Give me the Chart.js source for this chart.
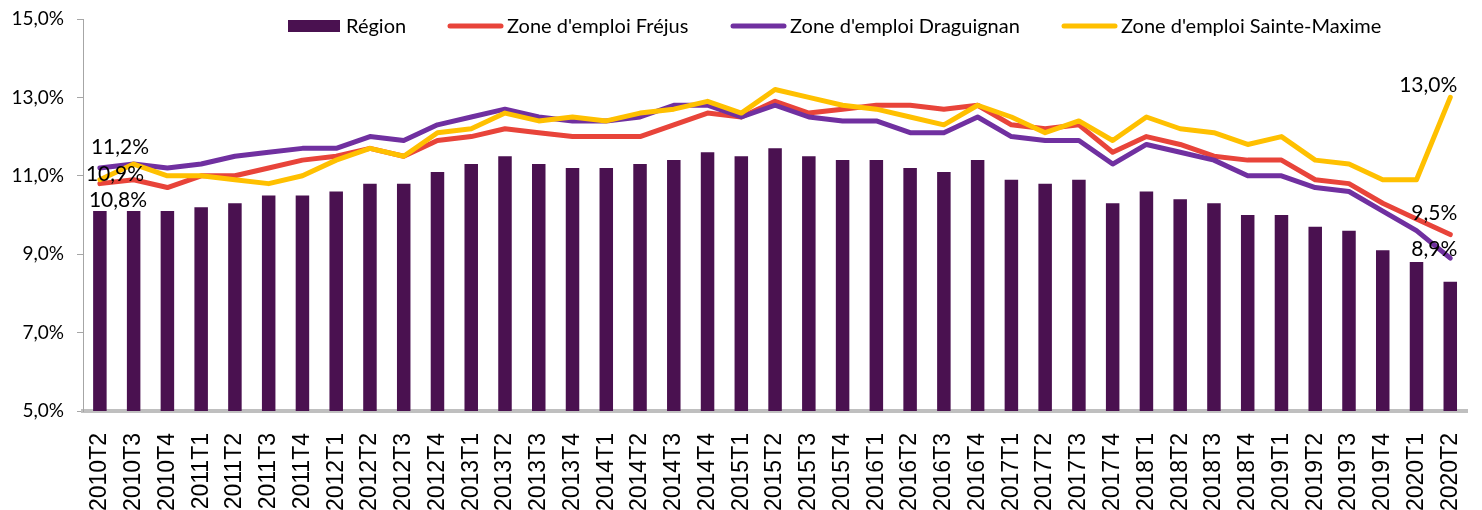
<!DOCTYPE html>
<html>
<head>
<meta charset="utf-8">
<script src="https://cdn.jsdelivr.net/npm/chart.js@4.4.0/dist/chart.umd.min.js"></script>
<style>
	html, body { margin: 0; padding: 0; background: #fff; overflow: hidden; }
	#wrap { position: relative; width: 1500px; height: 510px; }
</style>
</head>
<body>
<div id="wrap"><canvas id="chomage"></canvas></div>
<script>
	var labels = ['2010T2','2010T3','2010T4',
		'2011T1','2011T2','2011T3','2011T4',
		'2012T1','2012T2','2012T3','2012T4',
		'2013T1','2013T2','2013T3','2013T4',
		'2014T1','2014T2','2014T3','2014T4',
		'2015T1','2015T2','2015T3','2015T4',
		'2016T1','2016T2','2016T3','2016T4',
		'2017T1','2017T2','2017T3','2017T4',
		'2018T1','2018T2','2018T3','2018T4',
		'2019T1','2019T2','2019T3','2019T4',
		'2020T1','2020T2'];

	var region = [10.1,10.1,10.1,10.2,10.3,10.5,10.5,10.6,10.8,10.8,
		11.1,11.3,11.5,11.3,11.2,11.2,11.3,11.4,11.6,11.5,
		11.7,11.5,11.4,11.4,11.2,11.1,11.4,10.9,10.8,10.9,
		10.3,10.6,10.4,10.3,10.0,10.0,9.7,9.6,9.1,8.8,8.3];

	var frejus = [10.8,10.9,10.7,11.0,11.0,11.2,11.4,11.5,11.7,11.5,
		11.9,12.0,12.2,12.1,12.0,12.0,12.0,12.3,12.6,12.5,
		12.9,12.6,12.7,12.8,12.8,12.7,12.8,12.3,12.2,12.3,
		11.6,12.0,11.8,11.5,11.4,11.4,10.9,10.8,10.3,9.9,9.5];

	var draguignan = [11.2,11.3,11.2,11.3,11.5,11.6,11.7,11.7,12.0,11.9,
		12.3,12.5,12.7,12.5,12.4,12.4,12.5,12.8,12.8,12.5,
		12.8,12.5,12.4,12.4,12.1,12.1,12.5,12.0,11.9,11.9,
		11.3,11.8,11.6,11.4,11.0,11.0,10.7,10.6,10.1,9.6,8.9];

	var sainteMaxime = [10.9,11.3,11.0,11.0,10.9,10.8,11.0,11.4,11.7,11.5,
		12.1,12.2,12.6,12.4,12.5,12.4,12.6,12.7,12.9,12.6,
		13.2,13.0,12.8,12.7,12.5,12.3,12.8,12.5,12.1,12.4,
		11.9,12.5,12.2,12.1,11.8,12.0,11.4,11.3,10.9,10.9,13.0];

	var yTicks = [5, 7, 9, 11, 13, 15];

	var FONT = 'Lato, "Open Sans", sans-serif';

	function pct(v) {
		return v.toFixed(1).replace('.', ',') + '%';
	}

	//légende dessinée à la main, positionnée comme l'original
	var legendPlugin = {
		id: 'legendeExcel',
		afterDraw: function(chart) {
			var ctx = chart.ctx;
			var startX = [288, 448, 731, 1062];
			var cy = 26;
			ctx.save();
			ctx.font = '20px ' + FONT;
			ctx.textBaseline = 'middle';
			chart.data.datasets.forEach(function(ds, i) {
				var x = startX[i];
				var textX;
				if (ds.type === 'bar') {
					ctx.fillStyle = ds.backgroundColor;
					ctx.fillRect(x, cy - 6, 52, 12);
					textX = x + 58;
				} else {
					ctx.strokeStyle = ds.borderColor;
					ctx.lineWidth = 5;
					ctx.lineCap = 'round';
					ctx.beginPath();
					ctx.moveTo(x + 2, cy);
					ctx.lineTo(x + 53, cy);
					ctx.stroke();
					textX = x + 59;
				}
				ctx.fillStyle = '#000';
				ctx.fillText(ds.label, textX, cy + 1);
			});
			ctx.restore();
		}
	};

	//étiquettes de valeurs au début et à la fin des courbes
	var valueLabels = [
		{ ds: 2, idx: 0, dx: -9, dy: -21, align: 'left' },
		{ ds: 3, idx: 0, dx: -14, dy: -5, align: 'left' },
		{ ds: 1, idx: 0, dx: -11, dy: 17, align: 'left' },
		{ ds: 3, idx: 40, dx: 7, dy: -12, align: 'right' },
		{ ds: 1, idx: 40, dx: 7, dy: -21, align: 'right' },
		{ ds: 2, idx: 40, dx: 7, dy: -9, align: 'right' }
	];

	var valuePlugin = {
		id: 'etiquettes',
		afterDatasetsDraw: function(chart) {
			var ctx = chart.ctx;
			ctx.save();
			ctx.font = '21px ' + FONT;
			ctx.fillStyle = '#000';
			ctx.textBaseline = 'middle';
			valueLabels.forEach(function(l) {
				var pt = chart.getDatasetMeta(l.ds).data[l.idx];
				var v = chart.data.datasets[l.ds].data[l.idx];
				ctx.textAlign = l.align;
				ctx.fillText(pct(v), pt.x + l.dx, pt.y + l.dy);
			});
			ctx.restore();
		}
	};

	function lineSet(label, data, color, order) {
		return {
			type: 'line',
			label: label,
			data: data,
			borderColor: color,
			backgroundColor: color,
			borderWidth: 5,
			pointRadius: 0,
			pointHoverRadius: 0,
			tension: 0,
			borderJoinStyle: 'round',
			borderCapStyle: 'round',
			fill: false,
			order: order
		};
	}

	var ctx = document.getElementById('chomage');
	var chart = new Chart(ctx, {
		data: {
			labels: labels,
			datasets: [
				{
					type: 'bar',
					label: 'Région',
					data: region,
					backgroundColor: '#4a1150',
					borderWidth: 0,
					barPercentage: 0.8,
					categoryPercentage: 0.5,
					order: 4
				},
				lineSet("Zone d'emploi Fréjus", frejus, '#e8443a', 3),
				lineSet("Zone d'emploi Draguignan", draguignan, '#7030a0', 2),
				lineSet("Zone d'emploi Sainte-Maxime", sainteMaxime, '#ffc000', 1)
			]
		},
		options: {
			responsive: true,
			maintainAspectRatio: false,
			animation: false,
			layout: {
				padding: { top: 19, right: 11, left: 0, bottom: 0 }
			},
			plugins: {
				legend: { display: false },
				tooltip: { enabled: false }
			},
			scales: {
				x: {
					offset: true,
					grid: { display: false, drawTicks: false },
					border: { display: true, color: '#bfbfbf', width: 4 },
					ticks: {
						autoSkip: false,
						minRotation: 90,
						maxRotation: 90,
						padding: 22,
						color: '#000',
						font: { family: '"Liberation Sans", Arial, sans-serif', size: 23 }
					},
					afterFit: function(s) { s.height = 99; }
				},
				y: {
					min: 5,
					max: 15,
					afterBuildTicks: function(s) {
						s.ticks = yTicks.map(function(v) { return { value: v }; });
					},
					grid: {
						drawOnChartArea: false,
						drawTicks: true,
						tickLength: 6,
						color: '#a6a6a6'
					},
					border: { display: true, color: '#a6a6a6', width: 1 },
					ticks: {
						padding: 13,
						color: '#000',
						font: { family: FONT, size: 19 },
						callback: function(v) { return pct(v); }
					},
					afterFit: function(s) {
						s.width = 83;
						s.paddingTop = 0;
					}
				}
			}
		},
		plugins: [valuePlugin, legendPlugin]
	});
</script>
</body>
</html>
